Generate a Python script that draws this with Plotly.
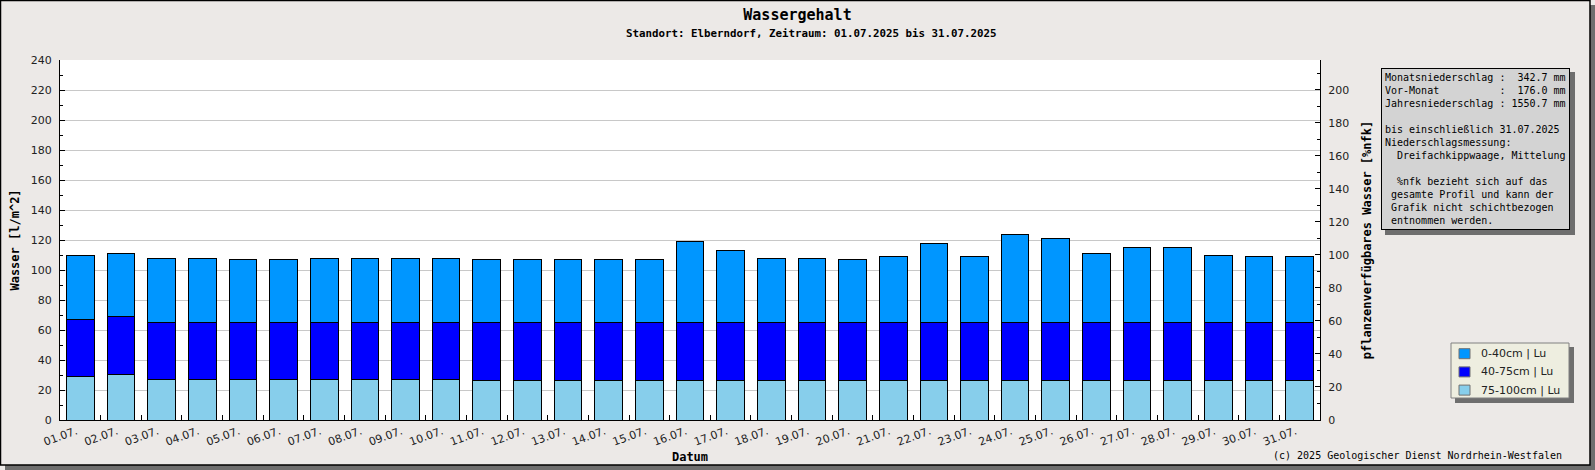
import plotly.graph_objects as go

# Tage im Juli 2025
tage = ["01.07.", "02.07.", "03.07.", "04.07.", "05.07.", "06.07.", "07.07.",
        "08.07.", "09.07.", "10.07.", "11.07.", "12.07.", "13.07.", "14.07.",
        "15.07.", "16.07.", "17.07.", "18.07.", "19.07.", "20.07.", "21.07.",
        "22.07.", "23.07.", "24.07.", "25.07.", "26.07.", "27.07.", "28.07.",
        "29.07.", "30.07.", "31.07."]

# Wasser je Schicht [l/m^2], von unten nach oben gestapelt
schicht_75_100 = [29.1, 30.4, 27.1, 27.1, 27.1, 27.1, 27.1, 27.1, 27.1, 27.1,
                  26.4, 26.4, 26.4, 26.4, 26.4, 26.4, 26.4, 26.4, 26.4, 26.4,
                  26.4, 26.4, 26.4, 26.4, 26.4, 26.4, 26.4, 26.4, 26.4, 26.4, 26.4]
schicht_40_75 = [38.2, 38.3, 38.2, 37.6, 37.6, 37.6, 37.6, 37.6, 37.6, 37.6,
                 38.3, 38.3, 38.3, 38.3, 38.3, 38.3, 38.3, 38.3, 38.3, 38.3,
                 38.3, 38.3, 38.3, 38.3, 38.3, 38.3, 38.3, 38.3, 38.3, 38.3, 38.3]
schicht_0_40 = [42.7, 42.4, 42.5, 43.1, 42.4, 42.4, 43.1, 43.1, 43.3, 43.3,
                42.6, 42.6, 42.6, 42.6, 42.6, 54.0, 48.6, 43.3, 43.3, 42.6,
                44.0, 53.3, 44.0, 59.3, 56.6, 46.6, 50.0, 50.0, 45.3, 44.0, 44.0]

wasser_max = 240   # linke Achse
nfk_max = 218      # rechte Achse, gleiche Hoehe

info_zeilen = [
    "Monatsniederschlag :  342.7 mm",
    "Vor-Monat          :  176.0 mm",
    "Jahresniederschlag : 1550.7 mm",
    "",
    "bis einschließlich 31.07.2025",
    "Niederschlagsmessung:",
    "  Dreifachkippwaage, Mittelung",
    "",
    "  %nfk bezieht sich auf das",
    " gesamte Profil und kann der",
    " Grafik nicht schichtbezogen",
    " entnommen werden.",
]

W, H = 1595, 470
L, R, T, B = 60, 275, 60, 50
MONO = "DejaVu Sans Mono"
SANS = "DejaVu Sans"
HG = "#ECE9E7"
SCHATTEN = "#6E6E6E"


def px(x):
    return (x - L) / (W - L - R)


def py(y):
    return (H - B - y) / (H - T - B)


def rechteck(x0, y0, x1, y1, fuell=None, linie=None, breite=1):
    fig.add_shape(type="rect", xref="paper", yref="paper",
                  x0=px(x0), x1=px(x1), y0=py(y0), y1=py(y1), layer="below",
                  fillcolor=fuell or "rgba(0,0,0,0)",
                  line=dict(color=linie or "rgba(0,0,0,0)", width=breite if linie else 0))


fig = go.Figure()

schichten = [("75-100cm | Lu", schicht_75_100, "#87CEEB"),
             ("40-75cm | Lu", schicht_40_75, "#0000FF"),
             ("0-40cm | Lu", schicht_0_40, "#0096FF")]
for name, werte, farbe in schichten:
    fig.add_trace(go.Bar(x=tage, y=werte, name=name, showlegend=False,
                         marker=dict(color=farbe, line=dict(color="black", width=1)),
                         hovertemplate="%{x}: %{y} l/m²<extra>" + name + "</extra>"))

# leere Spur, damit die rechte Achse gezeichnet wird
fig.add_trace(go.Scatter(x=tage, y=[None] * len(tage), yaxis="y2",
                         showlegend=False, hoverinfo="skip"))

achsentitel = dict(family=MONO, size=12, weight="bold", color="black")

fig.update_layout(
    width=W, height=H,
    margin=dict(l=L, r=R, t=T, b=B, autoexpand=False),
    paper_bgcolor=HG, plot_bgcolor="white",
    barmode="stack", bargap=0.32,
    font=dict(family=SANS, size=11, color="#222222"),
    title=dict(text="Wassergehalt", x=0.5, xref="container", xanchor="center",
               y=1 - 15 / H, yref="container", yanchor="middle",
               font=dict(family=MONO, size=15, weight="bold", color="black")),
    xaxis=dict(
        type="category", tickson="boundaries", ticks="inside", ticklen=5,
        tickcolor="black", showline=True, linecolor="black", linewidth=1,
        tickangle=-20, ticklabelshift=-4, showgrid=False, tickfont=dict(size=11),
        title=dict(text="Datum", standoff=4, font=achsentitel),
    ),
    yaxis=dict(
        range=[0, wasser_max], dtick=20, ticks="inside", ticklen=5,
        tickcolor="black", showline=True, linecolor="black", linewidth=1,
        gridcolor="#C8C8C8", zeroline=False, ticklabelstandoff=5,
        minor=dict(dtick=10, ticks="inside", ticklen=3, tickcolor="black", showgrid=False),
        title=dict(text="Wasser [l/m^2]", standoff=8, font=achsentitel),
    ),
    yaxis2=dict(
        overlaying="y", side="right", range=[0, nfk_max], dtick=20,
        ticks="inside", ticklen=5, tickcolor="black", showline=True,
        linecolor="black", linewidth=1, showgrid=False, zeroline=False,
        ticklabelstandoff=5,
        minor=dict(dtick=10, ticks="inside", ticklen=3, tickcolor="black"),
        title=dict(text="pflanzenverfügbares Wasser [%nfk]", standoff=14, font=achsentitel),
    ),
)

fig.add_annotation(text="Standort: Elberndorf, Zeitraum: 01.07.2025 bis 31.07.2025",
                   xref="paper", yref="paper", x=px(811), y=py(33),
                   xanchor="center", yanchor="middle", showarrow=False,
                   font=dict(family=MONO, size=10.8, weight="bold", color="black"))

fig.add_annotation(text="<br>".join(z.replace(" ", "\u00a0") for z in info_zeilen),
                   xref="paper", yref="paper", x=px(1381), y=py(68),
                   xanchor="left", yanchor="top", align="left", showarrow=False,
                   bgcolor="#D3D3D3", bordercolor="black", borderwidth=1, borderpad=3,
                   font=dict(family=MONO, size=10, color="black"))

fig.add_annotation(text="(c) 2025 Geologischer Dienst Nordrhein-Westfalen",
                   xref="paper", yref="paper", x=px(1564), y=py(455),
                   xanchor="right", yanchor="middle", showarrow=False,
                   font=dict(family=MONO, size=10, color="black"))

# Schatten Infokasten
rechteck(1385, 72, 1575, 235, fuell=SCHATTEN)

# Legende (oben die oberste Schicht)
rechteck(1455, 347, 1574, 403, fuell=SCHATTEN)
rechteck(1451, 343, 1569, 398, fuell="#EEEEE0", linie="#808080")
for i, (name, werte, farbe) in enumerate(reversed(schichten)):
    ym = 353.7 + i * 18.2
    rechteck(1459, ym - 5, 1470, ym + 5, fuell=farbe, linie="#707070")
    fig.add_annotation(text=name, xref="paper", yref="paper", x=px(1479), y=py(ym),
                       xanchor="left", yanchor="middle", showarrow=False,
                       font=dict(family=SANS, size=11, color="#222222"))

# Schatten und Rahmen der Grafik
rechteck(1590, 5, W, H, fuell=SCHATTEN)
rechteck(5, 465, W, H, fuell=SCHATTEN)
rechteck(0.5, 0.5, 1590, 465, linie="black", breite=1.5)

fig.write_html("out.html", config={"displayModeBar": False},
               post_script="document.body.style.margin='0px';")
